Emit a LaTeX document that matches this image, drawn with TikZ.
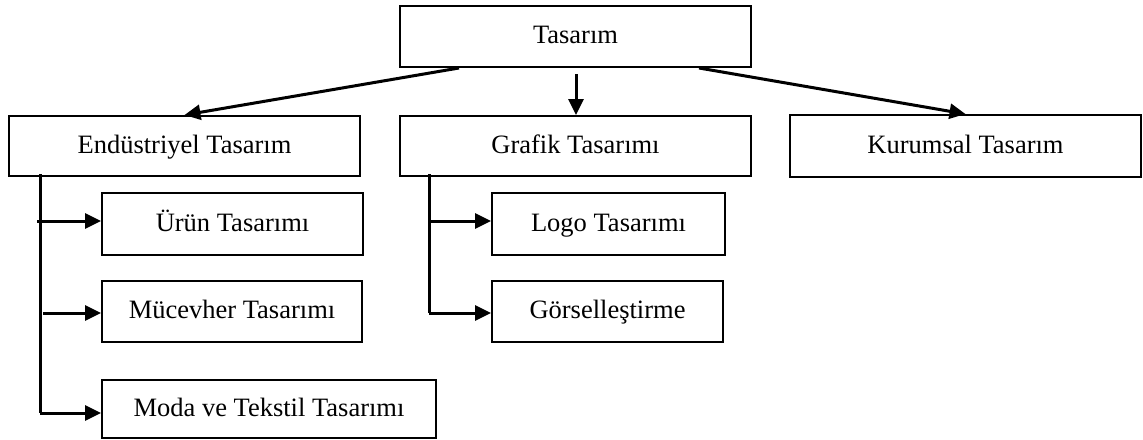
\documentclass[tikz,border=0pt]{standalone}
\usepackage{fontspec}
\setmainfont{Liberation Serif}
\usetikzlibrary{arrows.meta,calc}
\begin{document}
\begin{tikzpicture}[x=1pt,y=-1pt,
  box/.style={draw,line width=2pt,inner sep=0pt,anchor=center,
    text height=20pt,text depth=6pt,
    font=\fontsize{26.5}{30}\selectfont},
  conn/.style={line width=3pt},
  arr/.style={conn,-{Triangle[length=16pt,width=15pt]}}]
\useasboundingbox (0,0) rectangle (1143,439);
\node[box,minimum width=351pt,minimum height=61pt] (top) at (575.5,36.5) {Tasarım};
\node[box,minimum width=351pt,minimum height=60pt] (endu) at (184.5,146) {Endüstriyel Tasarım};
\node[box,minimum width=351pt,minimum height=60pt] (graf) at (575.5,146) {Grafik Tasarımı};
\node[box,minimum width=351pt,minimum height=62pt] (kur) at (965.5,146) {Kurumsal Tasarım};
\node[box,minimum width=261pt,minimum height=62pt] (urun) at (232.5,224) {Ürün Tasarımı};
\node[box,minimum width=260pt,minimum height=61pt] (muc) at (232,311.5) {Mücevher Tasarımı};
\node[box,minimum width=334pt,minimum height=58pt] (moda) at (269,409) {Moda ve Tekstil Tasarımı};
\node[box,minimum width=233pt,minimum height=62pt] (logo) at (608.5,224) {Logo Tasarımı};
\node[box,minimum width=231pt,minimum height=61pt] (gors) at (607.5,311.5) {Görselleştirme};
% top arrows
\coordinate (t1) at ($(top.south west)+(60,0)$);
\coordinate (t2) at ($(top.south west)+(177,6)$);
\coordinate (t3) at ($(top.south west)+(300,0)$);
\draw[arr] (t1) -- (endu.north);
\draw[arr] (t2) -- (t2 |- graf.north);
\draw[arr] (t3) -- (kur.north);
% left tree
\coordinate (e0) at (40,174);
\coordinate (e1) at (37,221);
\coordinate (e2) at (43,313);
\coordinate (e3) at (40,413);
\draw[conn] (e0) -- (e3);
\draw[arr] (e1) -- (e1 -| urun.west);
\draw[arr] (e2) -- (e2 -| muc.west);
\draw[arr] (e3) -- (e3 -| moda.west);
% grafik tree
\coordinate (g0) at (429,174);
\coordinate (g1) at (429,221);
\coordinate (g2) at (429,313);
\draw[conn] (g0) -- (g2);
\draw[arr] (g1) -- (g1 -| logo.west);
\draw[arr] (g2) -- (g2 -| gors.west);
\end{tikzpicture}
\end{document}
